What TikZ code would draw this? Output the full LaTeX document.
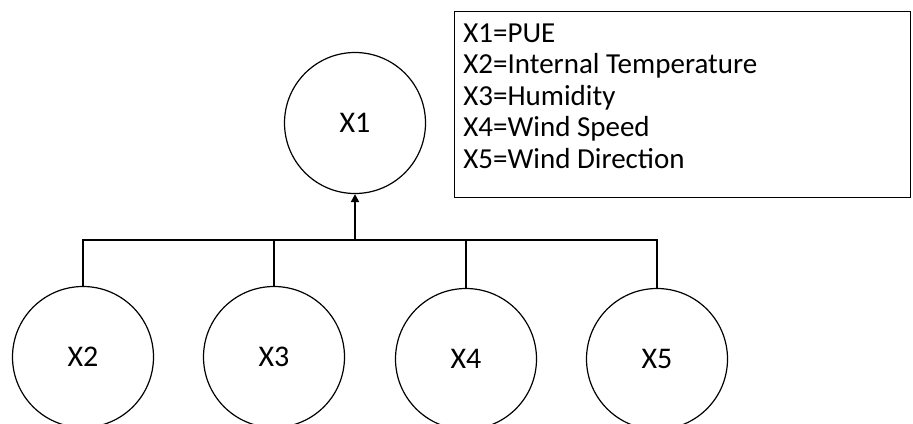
\documentclass[tikz,border=0pt]{standalone}
\usepackage{fontspec}
\setmainfont{Carlito}
\usepackage{tikz}
\usetikzlibrary{arrows.meta, positioning, calc}
\definecolor{mydark}{RGB}{0,0,0}
\tikzset{
  var/.style={circle, draw=mydark, minimum size=70.5pt, inner sep=0pt,
    line width=0.6pt, font=\fontsize{15}{18}\selectfont},
  legend/.style={rectangle, draw=mydark, line width=0.6pt, anchor=north west,
    minimum width=228pt, minimum height=93pt, inner sep=0pt},
  keytext/.style={anchor=north west, inner sep=0pt, align=flush left,
    font=\fontsize{14.5}{15.75}\selectfont},
  arrow/.style={-{Triangle[length=4pt, width=4pt]}, line width=1.4pt, color=mydark},
  line/.style={line width=1.4pt, color=mydark}
}

\begin{document}
\begin{tikzpicture}[x=0.5pt, y=-0.5pt]
  \useasboundingbox (0,0) rectangle (913,423);

  \node[var] (x1) at (355,123) {X1};
  \node[var] (x2) at (83,357) {X2};
  \node[var] (x3) at (274,357) {X3};
  \node[var] (x4) at (466,359) {X4};
  \node[var] (x5) at (657,359) {X5};

  \node[legend] (key) at (454,11) {};
  \node[keytext] (keylines) at (463,23) {X1=PUE\\X2=Internal Temperature\\X3=Humidity\\X4=Wind Speed\\X5=Wind Direction};

  \coordinate (bus) at (355,240);
  \draw[line] (x2.north) |- (bus) -| (x5.north);
  \draw[line] (x3.north) -- (x3.north |- bus);
  \draw[line] (x4.north) -- (x4.north |- bus);
  \draw[arrow] (bus) -- (x1.south);
\end{tikzpicture}
\end{document}
